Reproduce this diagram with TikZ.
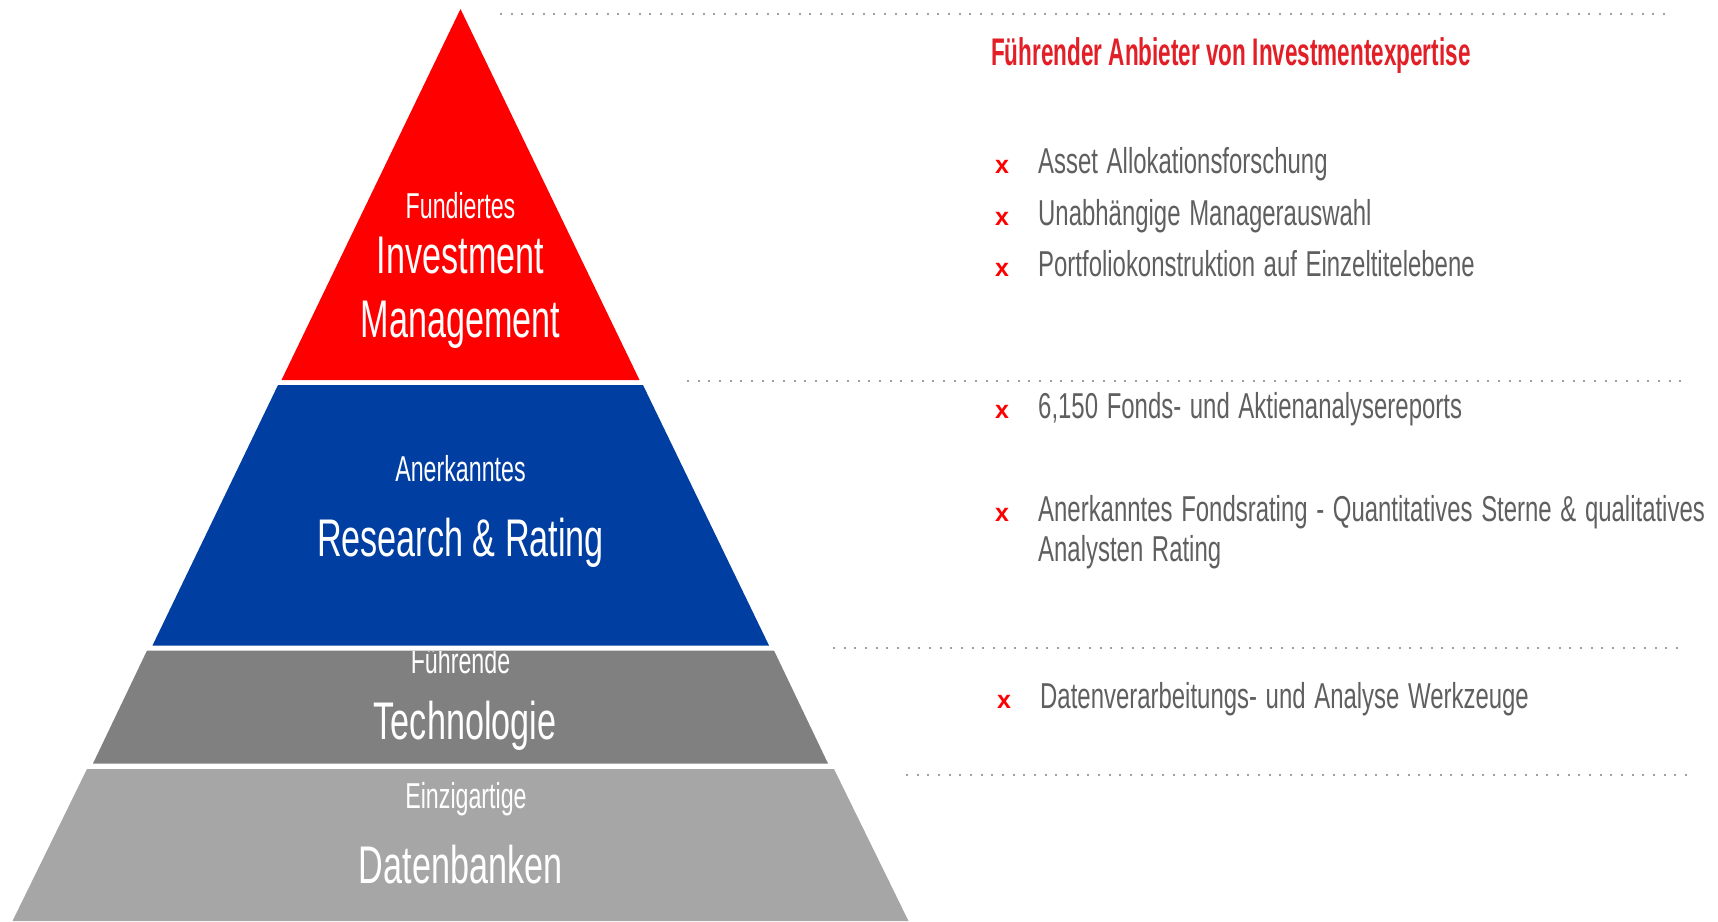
\documentclass[tikz,border=0pt]{standalone}
\usepackage{fontspec}
\setmainfont{Liberation Sans}[FakeStretch=0.645]
\newfontfamily\bodyfont{Liberation Sans}[FakeStretch=0.665, WordSpace=1.3]
\newfontfamily\titlefont{Liberation Sans}[FakeStretch=0.585]
\newfontfamily\bulletfont{Liberation Sans}
\definecolor{bandred}{RGB}{255,0,0}
\definecolor{bandblue}{RGB}{0,62,161}
\definecolor{bandgray}{RGB}{128,128,128}
\definecolor{bandlight}{RGB}{166,166,166}
\definecolor{titlered}{RGB}{226,30,38}
\definecolor{bodygray}{RGB}{95,95,95}
\definecolor{dotgray}{RGB}{160,160,160}
\definecolor{bulletred}{RGB}{255,0,0}
\tikzset{
  biglbl/.style={text=white, inner sep=0pt, anchor=base, font=\fontsize{53}{60}\selectfont},
  smalllbl/.style={text=white, inner sep=0pt, anchor=base, font=\fontsize{36}{40}\selectfont},
  bodytext/.style={text=bodygray, inner sep=0pt, anchor=base west, font=\bodyfont\fontsize{36}{40}\selectfont},
  titletext/.style={text=titlered, inner sep=0pt, anchor=base west, font=\titlefont\bfseries\fontsize{38.5}{42}\selectfont},
  bul/.style={text=bulletred, inner sep=0pt, anchor=center, font=\bulletfont\bfseries\fontsize{25}{25}\selectfont},
  dotline/.style={draw=dotgray, line width=2pt, dash pattern=on 2pt off 8.67pt}
}
\begin{document}
\begin{tikzpicture}[x=1pt, y=-1pt]
\useasboundingbox (0,0) rectangle (1718,921);
% pyramid bands
\fill[bandred] (460.5,9) -- (639.5,380) -- (281.5,380) -- cycle;
\fill[bandblue] (278,385) -- (643,385) -- (769,645.5) -- (152.5,645.5) -- cycle;
\fill[bandgray] (147,650.5) -- (774,650.5) -- (828,763.5) -- (93,763.5) -- cycle;
\fill[bandlight] (87,769) -- (834,769) -- (908.5,921) -- (12.5,921) -- cycle;
% pyramid labels
\node[smalllbl] (fund) at (460.5,218) {Fundiertes};
\node[biglbl] (inv) at (460.5,273) {Investment};
\node[biglbl] (mgmt) at (460.5,337) {Management};
\node[smalllbl] (anerk) at (460.5,481) {Anerkanntes};
\node[biglbl] (res) at (460.5,556) {Research \& Rating};
\begin{scope}
\clip (147,650.5) -- (774,650.5) -- (828,763.5) -- (93,763.5) -- cycle;
\node[smalllbl] (fuehr) at (460.5,673) {Führende};
\end{scope}
\node[biglbl] (tech) at (465,739) {Technologie};
\node[smalllbl] (einz) at (466,808.5) {Einzigartige};
\node[biglbl] (daten) at (460.5,883) {Datenbanken};
% dotted separators
\draw[dotline] (500,14) -- (1665,14);
\draw[dotline] (687,381) -- (1682,381);
\draw[dotline] (833,647.5) -- (1682,647.5);
\draw[dotline] (906,774.5) -- (1690,774.5);
% right-hand text
\node[titletext] (title) at (991,65) {Führender Anbieter von Investmentexpertise};
\node[bul] (b1) at (1002,167) {x};
\node[bodytext] (t1) at (1038,173) {Asset Allokationsforschung};
\node[bul] (b2) at (1002,219) {x};
\node[bodytext] (t2) at (1038,225) {Unabhängige Managerauswahl};
\node[bul] (b3) at (1002,270) {x};
\node[bodytext] (t3) at (1038,276) {Portfoliokonstruktion auf Einzeltitelebene};
\node[bul] (b4) at (1002,412) {x};
\node[bodytext] (t4) at (1038,418) {6,150 Fonds- und Aktienanalysereports};
\node[bul] (b5) at (1002,515) {x};
\node[bodytext] (t5) at (1038,521) {Anerkanntes Fondsrating - Quantitatives Sterne \& qualitatives};
\node[bodytext] (t5b) at (1038,561) {Analysten Rating};
\node[bul] (b6) at (1004,702) {x};
\node[bodytext] (t6) at (1040,708) {Datenverarbeitungs- und Analyse Werkzeuge};
\end{tikzpicture}
\end{document}
